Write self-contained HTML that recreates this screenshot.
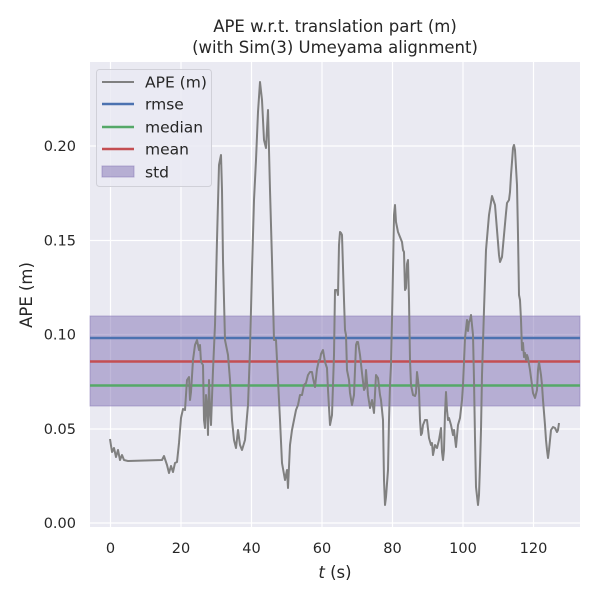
<!DOCTYPE html>
<html><head><meta charset="utf-8"><style>body{margin:0;background:#fff}svg{display:block}text{font-family:"DejaVu Sans","Liberation Sans",sans-serif;fill:#262626}</style></head>
<body>
<svg width="600" height="600" xmlns="http://www.w3.org/2000/svg">
<rect x="90" y="62" width="490" height="465" fill="#eaeaf2"/>
<g stroke="#fff" stroke-width="1.2">
<line x1="110.5" y1="62" x2="110.5" y2="527"/><line x1="181" y1="62" x2="181" y2="527"/><line x1="251.5" y1="62" x2="251.5" y2="527"/><line x1="322" y1="62" x2="322" y2="527"/><line x1="392.5" y1="62" x2="392.5" y2="527"/><line x1="463" y1="62" x2="463" y2="527"/><line x1="533.5" y1="62" x2="533.5" y2="527"/>
<line x1="90" y1="523" x2="580" y2="523"/><line x1="90" y1="429" x2="580" y2="429"/><line x1="90" y1="334.5" x2="580" y2="334.5"/><line x1="90" y1="240.5" x2="580" y2="240.5"/><line x1="90" y1="146" x2="580" y2="146"/>
</g>
<rect x="90" y="316" width="490" height="90" fill="#8172b3" fill-opacity="0.5" stroke="#8172b3" stroke-opacity="0.5"/>
<line x1="90" y1="338" x2="580" y2="338" stroke="#4c72b0" stroke-width="2.5"/>
<line x1="90" y1="385.5" x2="580" y2="385.5" stroke="#55a868" stroke-width="2.5"/>
<line x1="90" y1="361.5" x2="580" y2="361.5" stroke="#c44e52" stroke-width="2.5"/>
<polyline fill="none" stroke="#808080" stroke-width="2" stroke-linejoin="round" points="110,439 112,452 114,448 116,457 118,450 120,460 122,455 124,460 128,461 162,460 164,456 167,465 169,473 171,466 173,472 175,463 177,462 179,443 181,418 183,409 185,410 187,380 189,377 190,400 191,392 193,360 195,345 197,340 199,350 200,345 201,362 203,365 204,420 205,428 206,395 207,405 208,435 209,380 210,410 211,425 213,370 215,325 217,240 219,165 221,155 222,190 223,260 225,340 227,350 228,355 230,380 232,420 234,440 236,448 238,430 240,445 242,450 245,440 248,405 250,350 252,270 254,200 256,160 258,112 260,82 262,100 264,140 266,148 268,110 270,190 272,260 274,340 276,340 278,380 280,420 282,463 285,480 287,470 288,488 290,445 292,430 294,420 296,410 298,405 300,395 302,395 304,385 306,383 308,375 310,372 312,372 313,378 315,387 317,369 319,360 320,360 321,354 323,350 325,362 327,368 328,390 330,425 332,415 334,355 335,290 337,290 338,295 339,245 340,232 341,233 342,235 344,300 345,330 346,335 347,370 349,380 350,393 352,405 354,395 356,345 357,342 358,342 360,355 362,373 364,390 365,388 366,370 368,395 370,408 372,400 374,413 376,375 378,378 380,395 381,400 383,420 384,480 385,505 386,497 388,470 389,420 390,385 391,365 392,320 393,270 394,215 395,205 396,222 398,232 400,237 402,242 403,250 404,252 405,290 406,288 407,264 408,260 409,300 410,360 411,385 413,395 415,396 416,393 417,372 418,380 419,390 420,420 421,435 422,433 423,425 425,420 427,420 429,438 431,445 432,443 433,455 435,445 437,448 439,440 441,428 442,452 443,460 444,450 445,413 446,392 447,410 448,420 449,418 451,425 453,435 454,430 456,447 458,425 460,418 462,400 463,385 465,338 467,320 468,331 469,322 470,320 471,315 473,335 474,380 475,438 476,487 478,505 479,495 480,465 481,430 482,375 484,310 486,250 489,215 492,196 495,205 497,230 499,255 500,262 502,257 504,235 506,213 507,203 509,200 510,192 511,175 512,162 513,148 514,145 515,150 517,185 518,235 519,295 520,300 521,320 522,350 523,343 524,357 525,353 526,360 527,355 528,358 530,370 532,385 533,393 535,398 537,390 538,370 539,362 541,375 542,385 543,400 545,425 546,440 547,450 548,458 549,450 550,440 551,430 553,427 555,428 557,432 558,430 559,423"/>
<rect x="96.5" y="69.5" width="115" height="117" rx="3" fill="#eaeaf2" fill-opacity="0.8" stroke="#d0d0d8"/>
<line x1="102" y1="82" x2="134" y2="82" stroke="#808080" stroke-width="2"/>
<line x1="102" y1="104" x2="134" y2="104" stroke="#4c72b0" stroke-width="2.5"/>
<line x1="102" y1="127" x2="134" y2="127" stroke="#55a868" stroke-width="2.5"/>
<line x1="102" y1="149" x2="134" y2="149" stroke="#c44e52" stroke-width="2.5"/>
<rect x="102" y="166" width="32" height="11" fill="#8172b3" fill-opacity="0.5" stroke="#8172b3" stroke-opacity="0.5"/>
<g font-size="15.5"><text x="145" y="87.5">APE (m)</text><text x="145" y="109.5">rmse</text><text x="145" y="132.5">median</text><text x="145" y="154.5">mean</text><text x="145" y="177.5">std</text></g>
<g font-size="14.5" text-anchor="middle"><text x="110.5" y="553">0</text><text x="181" y="553">20</text><text x="251.5" y="553">40</text><text x="322" y="553">60</text><text x="392.5" y="553">80</text><text x="463" y="553">100</text><text x="533.5" y="553">120</text></g>
<g font-size="14.5" text-anchor="end"><text x="76" y="528">0.00</text><text x="76" y="434">0.05</text><text x="76" y="339.5">0.10</text><text x="76" y="245.5">0.15</text><text x="76" y="151">0.20</text></g>
<text x="335" y="578" font-size="16.5" text-anchor="middle"><tspan font-style="italic">t</tspan> (s)</text>
<text transform="translate(32,295) rotate(-90)" font-size="16.5" text-anchor="middle">APE (m)</text>
<text x="335" y="32" font-size="16.5" text-anchor="middle">APE w.r.t. translation part (m)</text>
<text x="335" y="53" font-size="16.5" text-anchor="middle">(with Sim(3) Umeyama alignment)</text>
</svg>
</body></html>
